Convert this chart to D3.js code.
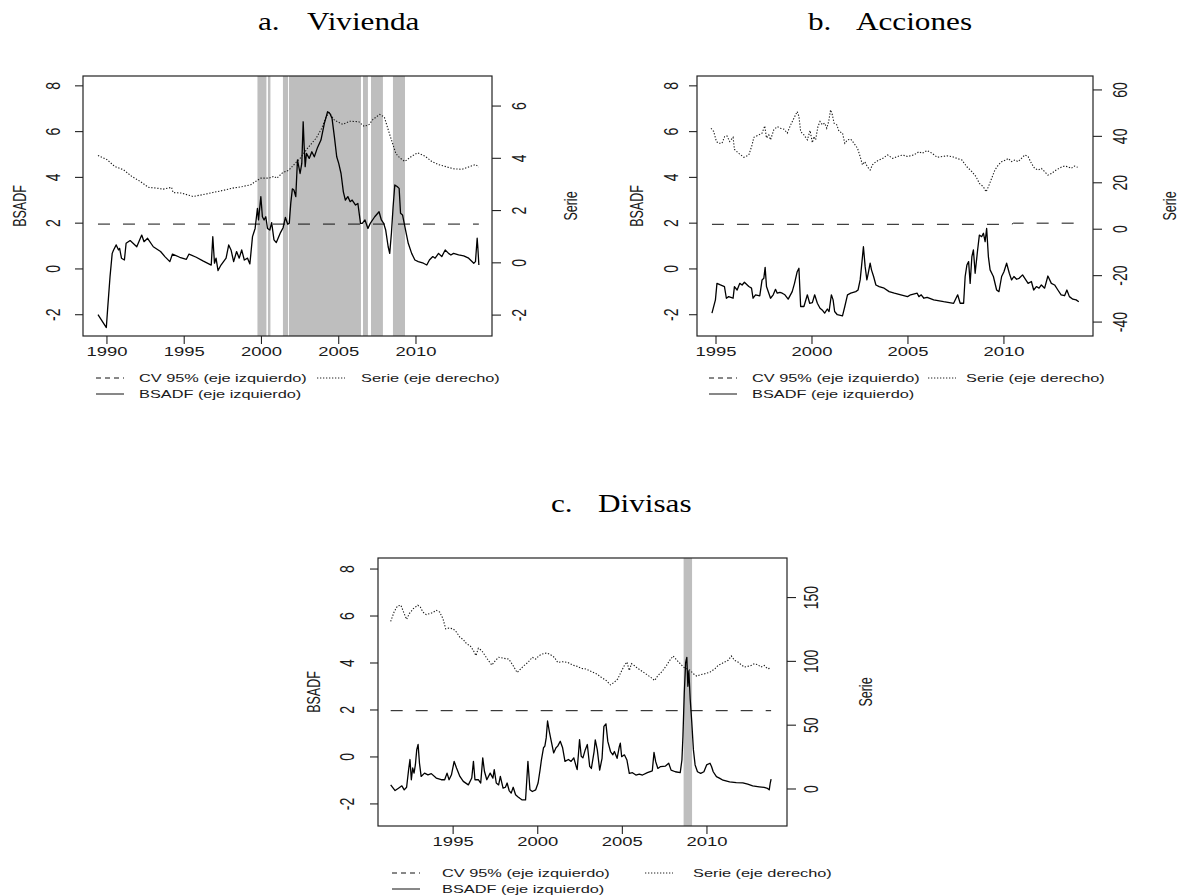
<!DOCTYPE html>
<html>
<head>
<meta charset="utf-8">
<script src="https://cdn.jsdelivr.net/npm/d3@7"></script>
<style>
  body { margin: 0; background: #fff; }
  svg text { font-family: "Liberation Sans", Arial, sans-serif; fill: #1a1a1a; }
  svg text.title { font-family: "Liberation Serif", "DejaVu Serif", serif; fill: #000; }
</style>
</head>
<body>
<svg id="chart" width="1181" height="896"></svg>
<script>
// ---- data: [year, value] ----
const vivBsadf = [[1989.42,-2.0],[1989.96,-2.56],[1990.04,-1.79],[1990.2,-0.33],[1990.34,0.68],[1990.43,0.83],[1990.6,1.05],[1990.75,0.83],[1990.82,0.9],[1990.94,0.47],[1991.13,0.39],[1991.24,1.12],[1991.5,1.24],[1991.93,0.97],[1992.25,1.48],[1992.4,1.19],[1992.63,1.34],[1993.0,0.97],[1993.32,0.83],[1993.47,0.76],[1993.75,0.54],[1994.07,0.32],[1994.24,0.65],[1994.71,0.51],[1995.14,0.42],[1995.31,0.65],[1995.78,0.51],[1996.21,0.35],[1996.75,0.17],[1996.85,1.41],[1996.96,0.25],[1997.06,0.47],[1997.19,-0.07],[1997.38,0.17],[1997.71,0.47],[1997.88,1.05],[1998.03,0.83],[1998.2,0.32],[1998.39,0.76],[1998.56,0.47],[1998.72,0.83],[1998.89,0.39],[1999.1,0.47],[1999.25,0.22],[1999.42,1.41],[1999.59,1.77],[1999.74,2.65],[1999.81,2.14],[1999.96,3.16],[2000.06,2.28],[2000.17,2.14],[2000.28,2.28],[2000.39,1.77],[2000.54,1.7],[2000.66,2.02],[2000.81,1.27],[2000.96,1.15],[2001.24,1.6],[2001.4,1.8],[2001.55,2.25],[2001.7,1.95],[2001.8,2.0],[2001.9,2.9],[2002.0,3.5],[2002.1,3.45],[2002.22,3.16],[2002.33,4.76],[2002.5,4.17],[2002.61,4.61],[2002.7,6.43],[2002.76,5.4],[2002.83,4.47],[2002.91,5.05],[2003.09,4.83],[2003.26,5.12],[2003.42,4.9],[2003.63,5.31],[2003.85,5.63],[2004.07,6.36],[2004.28,6.87],[2004.43,6.79],[2004.57,6.57],[2004.72,5.77],[2004.87,4.9],[2005.0,4.61],[2005.15,4.17],[2005.3,3.37],[2005.43,3.01],[2005.59,3.16],[2005.74,2.94],[2005.87,3.01],[2006.09,2.79],[2006.24,2.86],[2006.41,1.99],[2006.52,1.99],[2006.7,2.14],[2006.89,1.77],[2007.04,1.99],[2007.33,2.28],[2007.61,2.5],[2007.76,2.14],[2007.91,1.99],[2008.04,1.7],[2008.2,0.97],[2008.3,0.68],[2008.41,1.56],[2008.52,2.72],[2008.63,3.67],[2008.78,3.6],[2008.91,3.52],[2009.0,2.43],[2009.13,2.36],[2009.28,1.85],[2009.5,1.12],[2009.72,0.68],[2009.93,0.39],[2010.15,0.32],[2010.48,0.25],[2010.7,0.17],[2010.87,0.39],[2011.09,0.54],[2011.24,0.47],[2011.46,0.68],[2011.67,0.54],[2011.89,0.83],[2012.11,0.68],[2012.26,0.61],[2012.43,0.68],[2012.76,0.61],[2013.09,0.57],[2013.41,0.47],[2013.74,0.25],[2013.85,0.32],[2013.96,1.34],[2014.0,0.98],[2014.07,0.17]];
const vivSerie = [[1989.42,4.11],[1990.0,3.95],[1990.5,3.69],[1991.07,3.56],[1991.6,3.31],[1992.14,3.12],[1992.68,2.89],[1993.21,2.86],[1993.64,2.82],[1994.18,2.89],[1994.28,2.69],[1994.82,2.67],[1995.57,2.54],[1996.21,2.61],[1996.85,2.69],[1997.5,2.77],[1998.14,2.86],[1998.78,2.92],[1999.31,2.99],[1999.64,3.12],[1999.96,3.24],[2000.49,3.24],[2000.81,3.31],[2001.0,3.24],[2001.35,3.44],[2001.78,3.55],[2002.2,3.82],[2002.5,4.0],[2003.0,4.4],[2003.55,4.78],[2003.9,5.15],[2004.2,5.6],[2004.39,5.75],[2004.72,5.46],[2005.26,5.3],[2005.7,5.42],[2006.3,5.4],[2006.65,5.22],[2006.96,5.29],[2007.22,5.49],[2007.65,5.68],[2007.95,5.58],[2008.3,4.91],[2008.7,4.18],[2008.96,4.01],[2009.28,3.88],[2009.72,4.08],[2010.1,4.21],[2010.59,4.08],[2011.02,3.88],[2011.46,3.76],[2012.0,3.67],[2012.43,3.6],[2012.98,3.58],[2013.41,3.67],[2013.85,3.76],[2014.07,3.67]];
const vivCv = [[1989.42,1.96],[2014.07,1.96]];
const vivBands = [[1999.74,2000.32],[2000.42,2000.58],[2001.39,2001.72],[2001.78,2006.44],[2006.57,2006.89],[2007.09,2007.86],[2008.51,2009.29]];

const accBsadf = [[1994.79,-1.93],[1994.97,-1.35],[1995.05,-0.63],[1995.23,-0.7],[1995.44,-0.77],[1995.54,-1.28],[1995.66,-1.21],[1995.89,-1.28],[1995.96,-0.77],[1996.1,-0.92],[1996.24,-0.63],[1996.36,-0.7],[1996.48,-0.58],[1996.71,-0.77],[1996.85,-0.84],[1996.93,-1.28],[1997.06,-1.13],[1997.28,-1.18],[1997.4,-0.48],[1997.49,-0.41],[1997.56,0.07],[1997.63,-0.77],[1997.84,-1.28],[1997.98,-1.13],[1998.1,-0.89],[1998.19,-1.06],[1998.33,-1.02],[1998.45,-1.06],[1998.59,-1.13],[1998.76,-1.32],[1998.97,-0.99],[1999.09,-0.63],[1999.23,-0.12],[1999.32,0.03],[1999.41,-1.64],[1999.58,-1.64],[1999.76,-1.13],[1999.88,-1.5],[2000.02,-1.47],[2000.14,-1.13],[2000.28,-1.5],[2000.42,-1.72],[2000.56,-1.82],[2000.66,-1.93],[2000.8,-1.75],[2000.89,-1.86],[2001.01,-1.13],[2001.1,-1.35],[2001.18,-1.86],[2001.32,-2.0],[2001.59,-2.05],[2001.71,-1.64],[2001.85,-1.13],[2002.02,-1.06],[2002.28,-0.99],[2002.4,-0.92],[2002.51,-0.48],[2002.58,0.1],[2002.68,0.97],[2002.77,0.1],[2002.86,-0.48],[2002.93,-0.19],[2003.03,0.25],[2003.1,-0.04],[2003.21,-0.33],[2003.33,-0.7],[2003.5,-0.77],[2003.76,-0.84],[2004.02,-0.99],[2004.29,-1.06],[2004.63,-1.13],[2004.98,-1.21],[2005.14,-1.13],[2005.48,-1.06],[2005.57,-1.21],[2005.69,-1.13],[2005.83,-1.28],[2006.0,-1.24],[2006.34,-1.35],[2006.86,-1.43],[2007.38,-1.5],[2007.59,-1.13],[2007.72,-1.5],[2007.9,-1.5],[2007.98,-0.33],[2008.07,0.17],[2008.16,0.32],[2008.24,-0.63],[2008.33,0.54],[2008.41,0.83],[2008.5,-0.19],[2008.62,0.76],[2008.72,1.48],[2008.84,1.41],[2008.93,1.56],[2009.02,1.19],[2009.1,1.77],[2009.19,0.54],[2009.28,-0.04],[2009.45,-0.33],[2009.62,-0.92],[2009.74,-0.99],[2009.88,-0.33],[2010.0,-0.12],[2010.14,0.25],[2010.28,-0.19],[2010.4,-0.48],[2010.52,-0.33],[2010.66,-0.45],[2010.79,-0.41],[2010.97,-0.26],[2011.14,-0.48],[2011.26,-0.63],[2011.43,-0.55],[2011.55,-0.92],[2011.69,-0.77],[2011.83,-0.84],[2011.95,-0.7],[2012.12,-0.84],[2012.29,-0.31],[2012.47,-0.63],[2012.64,-0.7],[2012.81,-0.92],[2012.98,-1.13],[2013.16,-1.17],[2013.28,-0.92],[2013.41,-1.21],[2013.59,-1.32],[2013.76,-1.35],[2013.9,-1.43]];
const accSerie = [[1994.74,43.5],[1994.88,42.1],[1995.02,37.8],[1995.14,37.0],[1995.31,37.0],[1995.45,39.9],[1995.57,40.2],[1995.71,37.8],[1995.89,39.6],[1995.96,34.4],[1996.18,32.7],[1996.45,31.0],[1996.71,32.0],[1996.88,36.3],[1996.97,39.6],[1997.23,40.6],[1997.4,41.4],[1997.54,44.5],[1997.63,39.3],[1997.75,40.6],[1997.84,38.5],[1998.01,42.8],[1998.19,44.2],[1998.36,43.5],[1998.54,43.1],[1998.71,41.4],[1998.89,45.0],[1999.06,47.8],[1999.23,50.7],[1999.32,48.6],[1999.41,42.1],[1999.58,40.6],[1999.76,38.5],[1999.9,42.5],[2000.02,37.3],[2000.1,39.9],[2000.19,38.5],[2000.31,44.2],[2000.42,46.4],[2000.54,45.0],[2000.66,45.7],[2000.77,43.5],[2000.87,46.4],[2000.97,51.4],[2001.06,49.3],[2001.15,45.7],[2001.29,45.0],[2001.41,42.1],[2001.59,41.4],[2001.71,37.0],[2001.85,38.5],[2002.02,38.8],[2002.19,37.0],[2002.37,34.9],[2002.51,31.3],[2002.63,27.7],[2002.75,29.1],[2002.89,26.9],[2003.03,25.5],[2003.15,27.7],[2003.33,29.1],[2003.5,29.8],[2003.68,30.5],[2003.94,32.0],[2004.2,30.5],[2004.46,31.3],[2004.72,32.0],[2004.98,31.3],[2005.31,32.0],[2005.57,33.4],[2005.74,32.7],[2006.0,33.9],[2006.26,32.7],[2006.52,31.0],[2006.78,31.3],[2007.03,31.6],[2007.29,31.3],[2007.55,30.5],[2007.81,29.8],[2008.07,26.9],[2008.33,24.8],[2008.55,22.6],[2008.72,19.7],[2008.93,18.3],[2009.07,16.1],[2009.19,18.3],[2009.36,21.9],[2009.53,25.5],[2009.71,27.7],[2009.88,29.1],[2010.1,29.8],[2010.22,30.5],[2010.4,29.1],[2010.57,29.8],[2010.74,29.1],[2010.91,30.5],[2011.09,32.0],[2011.26,31.3],[2011.43,28.4],[2011.6,26.2],[2011.78,25.5],[2011.95,26.2],[2012.12,24.8],[2012.29,23.3],[2012.47,24.0],[2012.72,25.5],[2012.98,26.7],[2013.16,27.2],[2013.33,26.9],[2013.5,26.2],[2013.67,27.2],[2013.84,26.7]];
const accCv = [[1994.79,1.95],[2010.4,1.95],[2010.5,2.0],[2013.9,2.0]];
const accBands = [];

const divBsadf = [[1991.31,-1.19],[1991.57,-1.43],[1991.77,-1.33],[1991.97,-1.23],[1992.11,-1.4],[1992.25,-1.29],[1992.37,-0.54],[1992.45,-0.11],[1992.53,-0.97],[1992.61,-0.47],[1992.69,-0.69],[1992.77,-0.33],[1992.85,0.31],[1992.93,0.53],[1993.01,-0.26],[1993.11,-0.83],[1993.31,-0.69],[1993.51,-0.76],[1993.71,-0.71],[1994.0,-0.9],[1994.3,-0.97],[1994.5,-0.97],[1994.64,-0.69],[1994.76,-0.97],[1994.9,-0.76],[1995.06,-0.19],[1995.2,-0.47],[1995.4,-0.83],[1995.6,-1.04],[1995.9,-1.19],[1996.1,-0.9],[1996.2,-0.19],[1996.29,-0.97],[1996.49,-0.97],[1996.63,-1.11],[1996.75,-0.04],[1996.85,-0.61],[1996.99,-0.97],[1997.19,-0.69],[1997.35,-0.9],[1997.43,-0.54],[1997.55,-1.11],[1997.69,-1.19],[1997.79,-0.83],[1997.95,-1.33],[1998.09,-1.29],[1998.19,-1.11],[1998.31,-1.43],[1998.43,-1.54],[1998.55,-1.29],[1998.69,-1.61],[1998.82,-1.69],[1998.94,-1.76],[1999.08,-1.83],[1999.28,-1.83],[1999.42,-0.19],[1999.54,-1.4],[1999.68,-1.47],[1999.88,-1.4],[2000.02,-1.11],[2000.14,-0.54],[2000.22,-0.11],[2000.34,0.39],[2000.42,0.46],[2000.5,0.81],[2000.58,1.53],[2000.68,1.1],[2000.78,0.74],[2000.94,0.17],[2001.08,0.39],[2001.18,0.46],[2001.33,0.67],[2001.47,0.39],[2001.61,-0.19],[2001.81,-0.11],[2001.97,-0.19],[2002.13,-0.04],[2002.27,-0.4],[2002.33,-0.54],[2002.41,0.17],[2002.47,0.74],[2002.57,0.03],[2002.67,-0.04],[2002.81,0.31],[2002.93,0.53],[2003.07,-0.4],[2003.17,-0.49],[2003.33,0.23],[2003.4,0.73],[2003.52,0.3],[2003.66,-0.56],[2003.8,-0.06],[2003.91,1.3],[2004.03,1.41],[2004.14,0.66],[2004.3,0.23],[2004.44,0.09],[2004.53,0.23],[2004.69,-0.06],[2004.82,0.44],[2004.88,0.59],[2004.96,0.01],[2005.12,0.09],[2005.27,-0.13],[2005.41,-0.7],[2005.6,-0.67],[2005.8,-0.77],[2006.0,-0.73],[2006.19,-0.77],[2006.48,-0.67],[2006.77,-0.59],[2006.87,0.19],[2006.97,-0.2],[2007.1,-0.49],[2007.26,-0.41],[2007.55,-0.39],[2007.74,-0.27],[2007.88,-0.56],[2008.13,-0.63],[2008.42,-0.67],[2008.52,-0.13],[2008.58,0.87],[2008.66,2.73],[2008.74,4.01],[2008.81,4.24],[2008.87,3.01],[2008.93,3.66],[2009.01,2.46],[2009.1,1.51],[2009.2,0.3],[2009.3,-0.34],[2009.44,-0.63],[2009.63,-0.7],[2009.82,-0.63],[2009.98,-0.34],[2010.18,-0.27],[2010.27,-0.41],[2010.37,-0.63],[2010.56,-0.84],[2010.76,-0.91],[2010.95,-0.99],[2011.34,-1.06],[2011.73,-1.09],[2012.12,-1.1],[2012.41,-1.16],[2012.7,-1.23],[2013.09,-1.27],[2013.38,-1.3],[2013.58,-1.34],[2013.68,-1.4],[2013.74,-1.11],[2013.79,-0.94]];
const divSerie = [[1991.31,131.3],[1991.51,138.7],[1991.71,143.4],[1991.91,144.0],[1992.11,137.4],[1992.25,132.9],[1992.41,137.4],[1992.65,141.3],[1992.91,144.0],[1993.06,142.6],[1993.21,138.7],[1993.41,136.6],[1993.6,137.4],[1993.8,138.2],[1994.0,140.0],[1994.2,138.7],[1994.4,133.4],[1994.56,125.5],[1994.76,126.1],[1995.0,125.5],[1995.2,122.9],[1995.4,118.9],[1995.6,117.1],[1995.8,113.7],[1996.0,112.4],[1996.2,108.4],[1996.35,104.5],[1996.49,110.3],[1996.69,108.4],[1996.89,104.5],[1997.09,100.5],[1997.29,97.1],[1997.49,100.5],[1997.69,103.2],[1997.99,102.4],[1998.29,101.8],[1998.55,96.6],[1998.78,91.3],[1998.98,94.0],[1999.18,96.6],[1999.42,99.2],[1999.68,103.2],[1999.88,101.8],[2000.08,104.5],[2000.28,105.8],[2000.54,106.6],[2000.78,105.0],[2000.98,103.2],[2001.18,99.2],[2001.47,99.7],[2001.77,99.2],[2002.07,97.1],[2002.33,96.1],[2002.57,94.5],[2002.87,94.0],[2003.07,92.6],[2003.46,90.3],[2003.75,87.6],[2004.05,85.0],[2004.3,81.6],[2004.53,83.7],[2004.73,86.3],[2004.92,91.6],[2005.12,96.8],[2005.27,99.5],[2005.41,92.9],[2005.54,98.2],[2005.7,96.8],[2005.89,94.7],[2006.09,92.9],[2006.38,90.3],[2006.67,87.6],[2006.91,85.0],[2007.1,88.9],[2007.35,92.1],[2007.61,96.8],[2007.8,100.8],[2008.0,104.2],[2008.23,100.8],[2008.42,98.2],[2008.62,95.5],[2008.81,94.2],[2009.01,92.9],[2009.2,90.3],[2009.4,88.4],[2009.59,89.5],[2009.88,90.3],[2010.18,91.6],[2010.47,94.2],[2010.66,96.8],[2010.86,98.2],[2011.05,99.5],[2011.25,100.8],[2011.44,104.2],[2011.63,100.8],[2011.83,99.5],[2012.02,97.4],[2012.22,95.5],[2012.41,96.1],[2012.61,96.8],[2012.8,98.2],[2013.0,97.4],[2013.19,95.5],[2013.39,96.8],[2013.58,94.2],[2013.77,94.7]];
const divCv = [[1991.31,1.97],[2013.79,1.97]];
const divBands = [[2008.62,2009.12]];

// ---- ticks and labels ----
const leftTicks = [-2, 0, 2, 4, 6, 8];
const vivXTicks = [1990, 1995, 2000, 2005, 2010];
const accXTicks = [1995, 2000, 2005, 2010];
const divXTicks = [1995, 2000, 2005, 2010];
const vivRTicks = [-2, 0, 2, 4, 6];
const accRTicks = [-40, -20, 0, 20, 40, 60];
const divRTicks = [0, 50, 100, 150];
const legendLabels = ["CV 95% (eje izquierdo)", "Serie (eje derecho)", "BSADF (eje izquierdo)"];

const SX = 1.42; // source picture is stretched horizontally

const svg = d3.select("#chart");

function label(g, x, y, txt, size, rot, anchor) {
  return g.append("text")
    .attr("transform", `translate(${x},${y}) scale(${SX},1)` + (rot ? " rotate(-90)" : ""))
    .attr("text-anchor", anchor || "middle")
    .attr("dominant-baseline", "central")
    .style("font-size", size + "px")
    .text(txt);
}

function title(g, x, y, txt) {
  g.append("text").attr("class", "title")
    .attr("transform", `translate(${x},${y}) scale(1.2,1)`)
    .attr("dominant-baseline", "central")
    .style("font-size", "26px")
    .text(txt);
}

const panels = [
  { letter: "a.", name: "Vivienda", letterX: 258, nameX: 307, titleY: 21,
    box: [83, 76, 492, 336], xDom: [1988.45, 2014.92], yL: [-2.93, 8.43], yR: [-2.8, 7.15],
    xTicks: vivXTicks, rTicks: vivRTicks, bsadf: vivBsadf, serie: vivSerie, cv: vivCv, bands: vivBands,
    lTickX: 53, lLabX: 20, rTickX: 519, rLabX: 571, xTickY: 352,
    leg: { s1: 96, t1: 139, s2: 317, t2: 361, y1: 378, y2: 394 } },
  { letter: "b.", name: "Acciones", letterX: 808, nameX: 856, titleY: 21,
    box: [697, 76, 1093, 336], xDom: [1994.01, 2014.64], yL: [-2.93, 8.43], yR: [-46, 66],
    xTicks: accXTicks, rTicks: accRTicks, bsadf: accBsadf, serie: accSerie, cv: accCv, bands: accBands,
    lTickX: 671, lLabX: 637, rTickX: 1120, rLabX: 1170, xTickY: 352,
    leg: { s1: 709, t1: 752, s2: 928, t2: 966, y1: 378, y2: 394 } },
  { letter: "c.", name: "Divisas", letterX: 551, nameX: 598, titleY: 503,
    box: [378, 558, 787, 826], xDom: [1990.56, 2014.73], yL: [-2.94, 8.47], yR: [-29, 181],
    xTicks: divXTicks, rTicks: divRTicks, bsadf: divBsadf, serie: divSerie, cv: divCv, bands: divBands,
    lTickX: 347, lLabX: 314, rTickX: 811, rLabX: 866, xTickY: 842,
    leg: { s1: 392, t1: 442, s2: 645, t2: 693, y1: 873, y2: 889 } }
];

panels.forEach(p => {
  const [x0, y0, x1, y1] = p.box;
  const g = svg.append("g");
  const x = d3.scaleLinear().domain(p.xDom).range([x0, x1]);
  const yl = d3.scaleLinear().domain(p.yL).range([y1, y0]);
  const yr = d3.scaleLinear().domain(p.yR).range([y1, y0]);

  title(g, p.letterX, p.titleY, p.letter);
  title(g, p.nameX, p.titleY, p.name);

  // shaded periods
  g.selectAll("rect.band").data(p.bands).enter().append("rect")
    .attr("x", d => x(d[0])).attr("width", d => x(d[1]) - x(d[0]))
    .attr("y", y0).attr("height", y1 - y0)
    .attr("fill", "#bebebe");

  const lineL = d3.line().x(d => x(d[0])).y(d => yl(d[1]));
  const lineR = d3.line().x(d => x(d[0])).y(d => yr(d[1]));

  g.append("path").attr("d", lineL(p.cv)).attr("fill", "none")
    .attr("stroke", "#111").attr("stroke-width", 1).attr("stroke-dasharray", "12,13");
  g.append("path").attr("d", lineR(p.serie)).attr("fill", "none")
    .attr("stroke", "#1a1a1a").attr("stroke-width", 1.1).attr("stroke-dasharray", "1.3,1.7");
  g.append("path").attr("d", lineL(p.bsadf)).attr("fill", "none")
    .attr("stroke", "#000").attr("stroke-width", 1.3).attr("stroke-linejoin", "round");

  // box
  g.append("rect").attr("x", x0).attr("y", y0).attr("width", x1 - x0).attr("height", y1 - y0)
    .attr("fill", "none").attr("stroke", "#222").attr("stroke-width", 1.2);

  // x axis
  p.xTicks.forEach(t => {
    g.append("line").attr("x1", x(t)).attr("x2", x(t)).attr("y1", y1).attr("y2", y1 + 8)
      .attr("stroke", "#222").attr("stroke-width", 1.1);
    label(g, x(t), p.xTickY, t, 13);
  });
  // left axis
  leftTicks.forEach(t => {
    g.append("line").attr("x1", x0).attr("x2", x0 - 8).attr("y1", yl(t)).attr("y2", yl(t))
      .attr("stroke", "#222").attr("stroke-width", 1.1);
    label(g, p.lTickX, yl(t), t, 14, true);
  });
  // right axis
  p.rTicks.forEach(t => {
    g.append("line").attr("x1", x1).attr("x2", x1 + 9).attr("y1", yr(t)).attr("y2", yr(t))
      .attr("stroke", "#222").attr("stroke-width", 1.1);
    label(g, p.rTickX, yr(t), t, 14, true);
  });
  label(g, p.lLabX, (y0 + y1) / 2, "BSADF", 12.5, true);
  label(g, p.rLabX, (y0 + y1) / 2, "Serie", 12.5, true);

  // legend
  const L = p.leg;
  g.append("line").attr("x1", L.s1).attr("x2", L.s1 + 28).attr("y1", L.y1).attr("y2", L.y1)
    .attr("stroke", "#111").attr("stroke-dasharray", "5,4");
  g.append("line").attr("x1", L.s2).attr("x2", L.s2 + 28).attr("y1", L.y1).attr("y2", L.y1)
    .attr("stroke", "#222").attr("stroke-dasharray", "1.3,1.7");
  g.append("line").attr("x1", L.s1).attr("x2", L.s1 + 28).attr("y1", L.y2).attr("y2", L.y2)
    .attr("stroke", "#111");
  label(g, L.t1, L.y1, legendLabels[0], 11.5, false, "start");
  label(g, L.t2, L.y1, legendLabels[1], 11.5, false, "start");
  label(g, L.t1, L.y2, legendLabels[2], 11.5, false, "start");
});
</script>
</body>
</html>
